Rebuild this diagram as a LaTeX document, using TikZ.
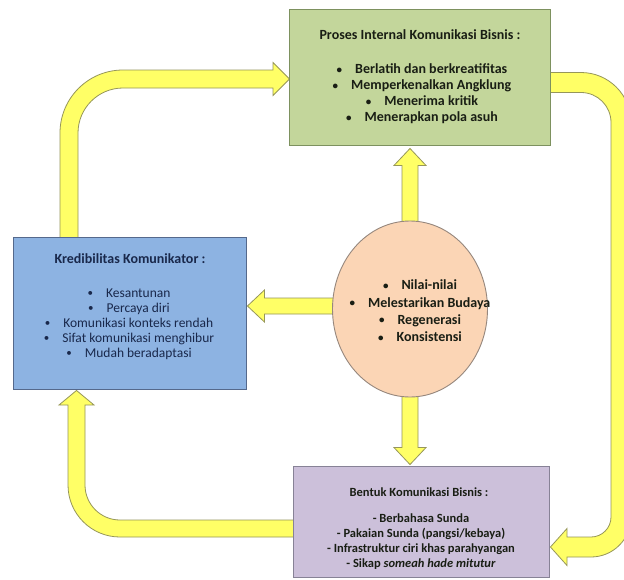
\documentclass[tikz,border=0pt]{standalone}
\usepackage{fontspec}
\setmainfont{Carlito}
\usetikzlibrary{shapes.geometric,calc,backgrounds}
\definecolor{gfill}{HTML}{C3D69B}
\definecolor{gedge}{RGB}{125,145,95}
\definecolor{bfill}{HTML}{8DB3E2}
\definecolor{bedge}{RGB}{85,105,140}
\definecolor{efill}{HTML}{FBD5B5}
\definecolor{eedge}{RGB}{150,135,125}
\definecolor{pfill}{HTML}{CCC0DA}
\definecolor{pedge}{RGB}{135,130,150}
\definecolor{ayel}{HTML}{FFFF66}
\definecolor{aedge}{RGB}{150,150,90}
\definecolor{btext}{RGB}{25,40,75}
\definecolor{dtext}{RGB}{25,30,20}
\newcommand{\bul}{\raisebox{0.8pt}{\fontsize{11}{11}\selectfont\textbullet}\hspace{13pt}}
\newcommand{\blockarr}[2]{%
  \coordinate (bh) at ($(#2)!17pt!(#1)$);
  \path[blockarrow] ($(#1)!8pt!90:(#2)$) -- ($(bh)!8pt!90:(#2)$) -- ($(bh)!16pt!90:(#2)$) -- (#2) -- ($(bh)!16pt!-90:(#2)$) -- ($(bh)!8pt!-90:(#2)$) -- ($(#1)!8pt!-90:(#2)$) -- cycle;}
\begin{document}
\begin{tikzpicture}[x=1pt,y=-1pt,
  panel/.style={draw, line width=0.9pt, inner sep=0pt},
  blockarrow/.style={fill=ayel, draw=aedge, line width=0.8pt, line join=miter},
  boldtxt/.style={align=center, inner sep=0pt, font=\bfseries\fontsize{14}{16}\selectfont},
  plaintxt/.style={align=center, inner sep=0pt, font=\fontsize{13.5}{15}\selectfont}]
\useasboundingbox (0,0) rectangle (624,579);
% panels
\node[panel, draw=gedge, fill=gfill, minimum width=261pt, minimum height=136pt] (green) at (419.5,77) {};
\node[panel, draw=bedge, fill=bfill, minimum width=233pt, minimum height=152pt] (blue) at (129.5,313) {};
\node[panel, draw=pedge, fill=pfill, minimum width=256pt, minimum height=111pt] (purple) at (421,521.5) {};
\node[panel, ellipse, draw=eedge, fill=efill, minimum width=155pt, minimum height=176pt] (ell) at (410,309) {};
% texts
\node[boldtxt, text=dtext] (gtitle) at (420,35) {Proses Internal Komunikasi Bisnis :};
\node[boldtxt, text=dtext] (glist) at (422,94) {\bul Berlatih dan berkreatifitas\\
\bul Memperkenalkan Angklung\\
\bul Menerima kritik\\
\bul Menerapkan pola asuh};
\node[boldtxt, text=btext] (btitle) at (130,259) {Kredibilitas Komunikator :};
\node[plaintxt, text=btext] (blist) at (129,324) {\bul Kesantunan\\
\bul Percaya diri\\
\bul Komunikasi konteks rendah\\
\bul Sifat komunikasi menghibur\\
\bul Mudah beradaptasi};
\node[boldtxt, text=dtext, font=\bfseries\fontsize{14}{17.3}\selectfont] (elist) at (420,311) {\bul Nilai-nilai\\
\bul Melestarikan Budaya\\
\bul Regenerasi\\
\bul Konsistensi};
\node[boldtxt, text=dtext, font=\bfseries\fontsize{12.5}{16}\selectfont] (ptitle) at (419,492) {Bentuk Komunikasi Bisnis :};
\node[boldtxt, text=dtext, font=\bfseries\fontsize{12.5}{15}\selectfont] (plist) at (421,542) {- Berbahasa Sunda\\
- Pakaian Sunda (pangsi/kebaya)\\
- Infrastruktur ciri khas parahyangan\\
- Sikap \textit{someah hade mitutur}};
% arrows
\begin{scope}[on background layer]
\fill[white] (0,0) rectangle (624,579);
\clip (0,0) rectangle (624,579);
\coordinate (upA) at ($(ell.north)+(0,6)$);
\coordinate (upB) at ($(ell.north |- green.south)+(0,3)$);
\blockarr{upA}{upB}
\coordinate (dnA) at ($(ell.south)+(0,-6)$);
\coordinate (dnB) at ($(ell.south |- purple.north)+(0,-1)$);
\blockarr{dnA}{dnB}
\coordinate (lfA) at ($(ell.west)+(6,-3)$);
\coordinate (lfB) at ($(ell.west -| blue.east)+(1,-3)$);
\blockarr{lfA}{lfB}
% blue -> green
\coordinate (a1s) at ([yshift=-4pt]blue.north);
\coordinate (a1t) at ([xshift=1pt]green.west);
\path[blockarrow] (a1s -| 60,0) -- (60,133) arc[start angle=180,end angle=90,radius=63pt] -- (273,70) -- (273,62.5) -- (a1t |- 0,79) -- (273,95.5) -- (273,88) -- (123,88) arc[start angle=90,end angle=180,radius=45pt] -- (a1s -| 78,0) -- cycle;
% purple -> blue
\coordinate (a2s) at ([xshift=4pt]purple.west);
\coordinate (a2t) at ([yshift=-1pt]blue.south);
\path[blockarrow] (a2s |- 0,520) -- (120,520) arc[start angle=270,end angle=180,radius=35pt] -- (85,405) -- (94,405) -- (a2t -| 76.5,0) -- (59,405) -- (68,405) -- (68,485) arc[start angle=180,end angle=270,radius=52pt] -- (a2s |- 0,537) -- cycle;
% green -> purple
\coordinate (a3s) at ([xshift=-4pt]green.east);
\coordinate (a3t) at ([xshift=1pt]purple.east);
\path[blockarrow] (a3s |- 0,72.5) -- (581,72.5) arc[start angle=90,end angle=0,radius=50pt] -- (631,517) arc[start angle=0,end angle=-90,radius=40pt] -- (567,557) -- (567,565.5) -- (a3t |- 0,547) -- (567,528.5) -- (567,537) -- (591,537) arc[start angle=270,end angle=360,radius=20pt] -- (611,122.5) arc[start angle=0,end angle=90,radius=30pt] -- (a3s |- 0,92.5) -- cycle;
\end{scope}
\end{tikzpicture}
\end{document}
